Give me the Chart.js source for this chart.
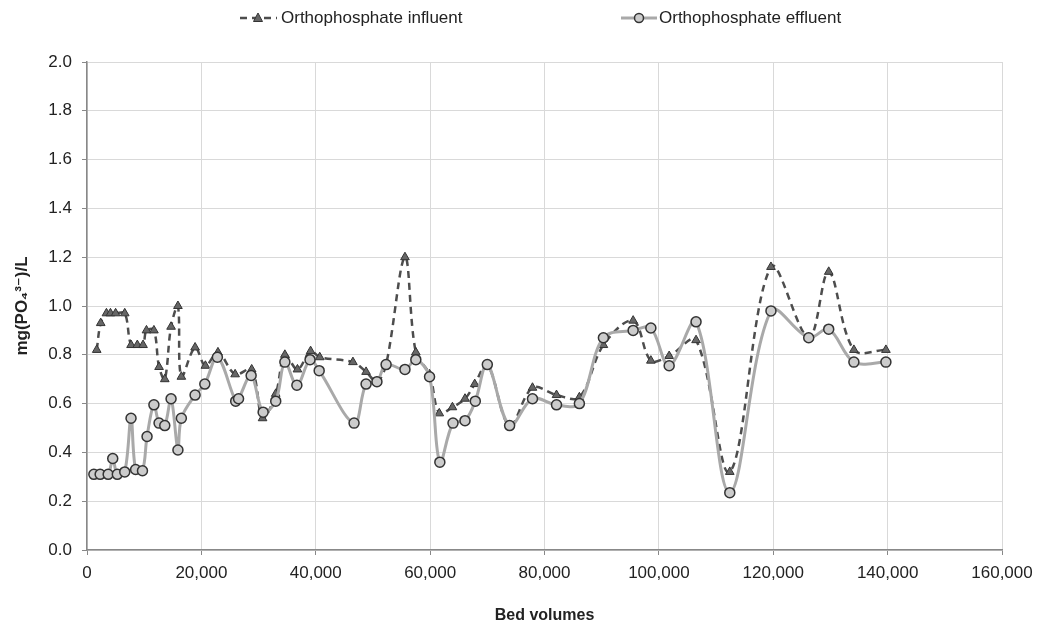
<!DOCTYPE html>
<html>
<head>
<meta charset="utf-8">
<script src="https://cdn.jsdelivr.net/npm/chart.js@4.4.1/dist/chart.umd.min.js"></script>
<style>
html,body{margin:0;padding:0;background:#fff;}
#wrap{width:1037px;height:628px;}
</style>
</head>
<body>
<div id="wrap"><canvas id="c" width="1037" height="628"></canvas></div>
<script>
// ---- data ----
const influentBV = [1700,2400,3400,4100,5000,6600,7700,8800,9800,10400,11700,12600,13600,14700,15900,16500,18900,20700,22900,25900,28800,30700,33000,34600,36800,39100,40700,46500,48800,50700,52300,55600,57500,59900,61600,63900,66100,67800,70000,73900,77900,82100,86100,90300,95500,98600,101800,106500,112400,119600,126200,129700,134100,139700];
const influentPO4 = [0.82,0.93,0.97,0.97,0.97,0.97,0.84,0.84,0.84,0.90,0.90,0.75,0.70,0.915,1.00,0.71,0.83,0.755,0.81,0.72,0.74,0.54,0.64,0.80,0.74,0.815,0.79,0.77,0.73,0.69,0.76,1.20,0.81,0.72,0.56,0.585,0.62,0.68,0.76,0.51,0.665,0.635,0.626,0.84,0.94,0.776,0.795,0.86,0.32,1.16,0.87,1.14,0.82,0.82];
const effluentBV = [1200,2300,3700,4500,5300,6600,7700,8500,9700,10500,11700,12600,13600,14700,15900,16500,18900,20600,22800,26000,26500,28700,30800,33000,34600,36700,39000,40600,46700,48800,50700,52300,55600,57500,59900,61700,64000,66100,67900,70000,73900,77900,82100,86100,90300,95500,98600,101800,106500,112400,119600,126200,129700,134100,139700];
const effluentPO4 = [0.31,0.31,0.31,0.375,0.31,0.32,0.54,0.33,0.325,0.465,0.595,0.52,0.51,0.62,0.41,0.54,0.635,0.68,0.79,0.61,0.62,0.715,0.565,0.61,0.77,0.675,0.78,0.735,0.52,0.68,0.69,0.76,0.74,0.78,0.71,0.36,0.52,0.53,0.61,0.76,0.51,0.62,0.595,0.60,0.87,0.90,0.91,0.755,0.935,0.235,0.98,0.87,0.905,0.77,0.77];
const seriesNames = ['Orthophosphate influent','Orthophosphate effluent'];
const xAxisTitle = 'Bed volumes';
const yAxisTitle = 'mg(PO\u2084\u00B3\u207B)/L';

const FONT = "'Liberation Sans', Arial, 'DejaVu Sans', sans-serif";
const INF_COLOR = '#4d4d4d';
const EFF_LINE = '#a9a9a9';

const toXY = (xs, ys) => xs.map((x, i) => ({x: x, y: ys[i]}));

const legendPlugin = {
  id: 'customLegend',
  afterDraw(chart) {
    const ctx = chart.ctx;
    ctx.save();
    const y = 18;
    // influent
    ctx.strokeStyle = INF_COLOR; ctx.lineWidth = 2.5; ctx.setLineDash([7,5]);
    ctx.beginPath(); ctx.moveTo(240, y); ctx.lineTo(277, y); ctx.stroke();
    ctx.setLineDash([]);
    ctx.fillStyle = '#666'; ctx.strokeStyle = '#333'; ctx.lineWidth = 1;
    ctx.beginPath(); ctx.moveTo(258, y-5); ctx.lineTo(262.5, y+3.5); ctx.lineTo(253.5, y+3.5); ctx.closePath(); ctx.fill(); ctx.stroke();
    // effluent
    ctx.strokeStyle = EFF_LINE; ctx.lineWidth = 3;
    ctx.beginPath(); ctx.moveTo(621, y); ctx.lineTo(657, y); ctx.stroke();
    ctx.fillStyle = '#cccccc'; ctx.strokeStyle = '#333'; ctx.lineWidth = 1.5;
    ctx.beginPath(); ctx.arc(639, y, 4.5, 0, Math.PI*2); ctx.fill(); ctx.stroke();
    ctx.fillStyle = '#222'; ctx.font = '17px ' + FONT; ctx.textBaseline = 'middle'; ctx.textAlign = 'left';
    ctx.fillText(seriesNames[0], 281, y);
    ctx.fillText(seriesNames[1], 659, y);
    ctx.restore();
  }
};

new Chart(document.getElementById('c'), {
  type: 'line',
  data: {
    datasets: [
      {
        label: seriesNames[1],
        data: toXY(effluentBV, effluentPO4),
        borderColor: EFF_LINE,
        borderWidth: 3,
        tension: 0.35,
        pointStyle: 'circle',
        pointRadius: 5,
        pointBackgroundColor: '#cccccc',
        pointBorderColor: '#333333',
        pointBorderWidth: 1.5,
        order: 0
      },
      {
        label: seriesNames[0],
        data: toXY(influentBV, influentPO4),
        borderColor: INF_COLOR,
        borderWidth: 2.5,
        borderDash: [7,5],
        tension: 0.35,
        pointStyle: 'triangle',
        pointRadius: 5,
        pointBackgroundColor: '#666666',
        pointBorderColor: '#333333',
        pointBorderWidth: 1,
        order: 1
      }
    ]
  },
  options: {
    responsive: false,
    animation: false,
    layout: {padding: {top: 62, right: 35, left: 0, bottom: 0}},
    plugins: {legend: {display: false}, tooltip: {enabled: false}},
    scales: {
      x: {
        type: 'linear', min: 0, max: 160000,
        afterFit(s) { s.height = 78; s.paddingRight = 0; s.paddingLeft = 0; },
        ticks: {stepSize: 20000, color: '#222', font: {family: FONT, size: 17}, padding: 8, maxRotation: 0,
          callback: v => v.toLocaleString('en-US')},
        grid: {color: '#d9d9d9', lineWidth: 1, tickLength: 5, tickColor: '#888'},
        border: {color: '#888', width: 1.5},
        title: {display: true, text: xAxisTitle, color: '#222', font: {family: FONT, size: 16, weight: 'bold'}, padding: {top: 0, bottom: 3}}
      },
      y: {
        min: 0, max: 2.0,
        afterFit(s) { s.width = 87; },
        ticks: {stepSize: 0.2, color: '#222', font: {family: FONT, size: 17}, padding: 10,
          callback: v => v.toFixed(1)},
        grid: {color: '#d9d9d9', lineWidth: 1, tickLength: 5, tickColor: '#888'},
        border: {color: '#888', width: 1.5},
        title: {display: true, text: yAxisTitle, color: '#222', font: {family: FONT, size: 17, weight: 'bold'}, padding: {top: 12, bottom: 0}}
      }
    }
  },
  plugins: [legendPlugin]
});
</script>
</body>
</html>
